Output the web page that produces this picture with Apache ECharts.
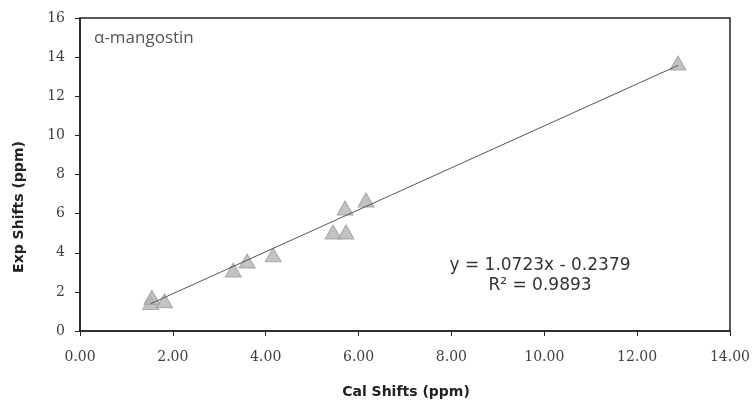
<!DOCTYPE html>
<html>
<head>
<meta charset="utf-8">
<script src="https://cdn.jsdelivr.net/npm/echarts@6/dist/echarts.min.js"></script>
<style>
  html, body { margin: 0; padding: 0; background: #fff; }
  #chart { width: 753px; height: 401px; }
</style>
</head>
<body>
<div id="chart"></div>
<script>
  // calculated vs experimental shifts (ppm)
  const calShifts = [1.52, 1.55, 1.82, 3.30, 3.60, 4.16, 5.45, 5.73, 5.71, 6.16, 12.88];
  const expShifts = [1.45, 1.72, 1.55, 3.12, 3.58, 3.89, 5.06, 5.06, 6.29, 6.70, 13.70];
  const slope = 1.0723;
  const intercept = -0.2379;
  const equationText = ['y = 1.0723x - 0.2379', 'R² = 0.9893'];
  const compoundName = 'α-mangostin';

  let points = calShifts.map((x, i) => [x, expShifts[i]]);
  let xMin = Math.min(...calShifts);
  let xMax = Math.max(...calShifts);
  let trend = [[xMin, slope * xMin + intercept], [xMax, slope * xMax + intercept]];

  let chart = echarts.init(document.getElementById('chart'));
  chart.setOption({
    animation: false,
    grid: {
      left: 80, right: 23, top: 18, bottom: 70,
      show: true,
      borderColor: '#222',
      borderWidth: 1.5,
      backgroundColor: '#fff'
    },
    xAxis: {
      type: 'value',
      min: 0, max: 14, interval: 2,
      splitLine: { show: false },
      axisLine: { lineStyle: { color: '#222', width: 1.5 } },
      axisTick: { show: true, length: 5, lineStyle: { color: '#222' } },
      axisLabel: {
        margin: 19,
        fontFamily: 'DejaVu Serif',
        fontSize: 14,
        color: '#404040',
        formatter: v => v.toFixed(2)
      }
    },
    yAxis: {
      type: 'value',
      min: 0, max: 16, interval: 2,
      splitLine: { show: false },
      axisLine: { show: true, lineStyle: { color: '#222', width: 1.5 } },
      axisTick: { show: true, length: 5, lineStyle: { color: '#222' } },
      axisLabel: {
        margin: 15,
        fontFamily: 'DejaVu Serif',
        fontSize: 14,
        color: '#404040'
      }
    },
    graphic: [
      {
        type: 'text', x: 94, y: 38,
        style: { text: compoundName, font: '17px "Open Sans"', fill: '#555', verticalAlign: 'middle' }
      },
      {
        type: 'text', x: 540, y: 276,
        style: {
          text: equationText.join('\n'), font: '17px "DejaVu Sans"',
          fill: '#333', align: 'center', verticalAlign: 'middle', lineHeight: 20
        }
      },
      {
        type: 'text', x: 406, y: 392,
        style: { text: 'Cal Shifts (ppm)', font: 'bold 14px "DejaVu Sans"', fill: '#222', align: 'center', verticalAlign: 'middle' }
      },
      {
        type: 'text', x: 19, y: 207, rotation: Math.PI / 2,
        style: { text: 'Exp Shifts (ppm)', font: 'bold 14px "DejaVu Sans"', fill: '#222', align: 'center', verticalAlign: 'middle' }
      }
    ],
    series: [
      {
        type: 'scatter',
        data: points,
        symbol: 'triangle',
        symbolSize: [16, 14],
        itemStyle: { color: '#b4b4b4', borderColor: '#9a9a9a', borderWidth: 1 },
        z: 2
      },
      {
        type: 'line',
        data: trend,
        symbol: 'none',
        lineStyle: { color: '#555', width: 1 },
        z: 3
      }
    ]
  });
</script>
</body>
</html>
